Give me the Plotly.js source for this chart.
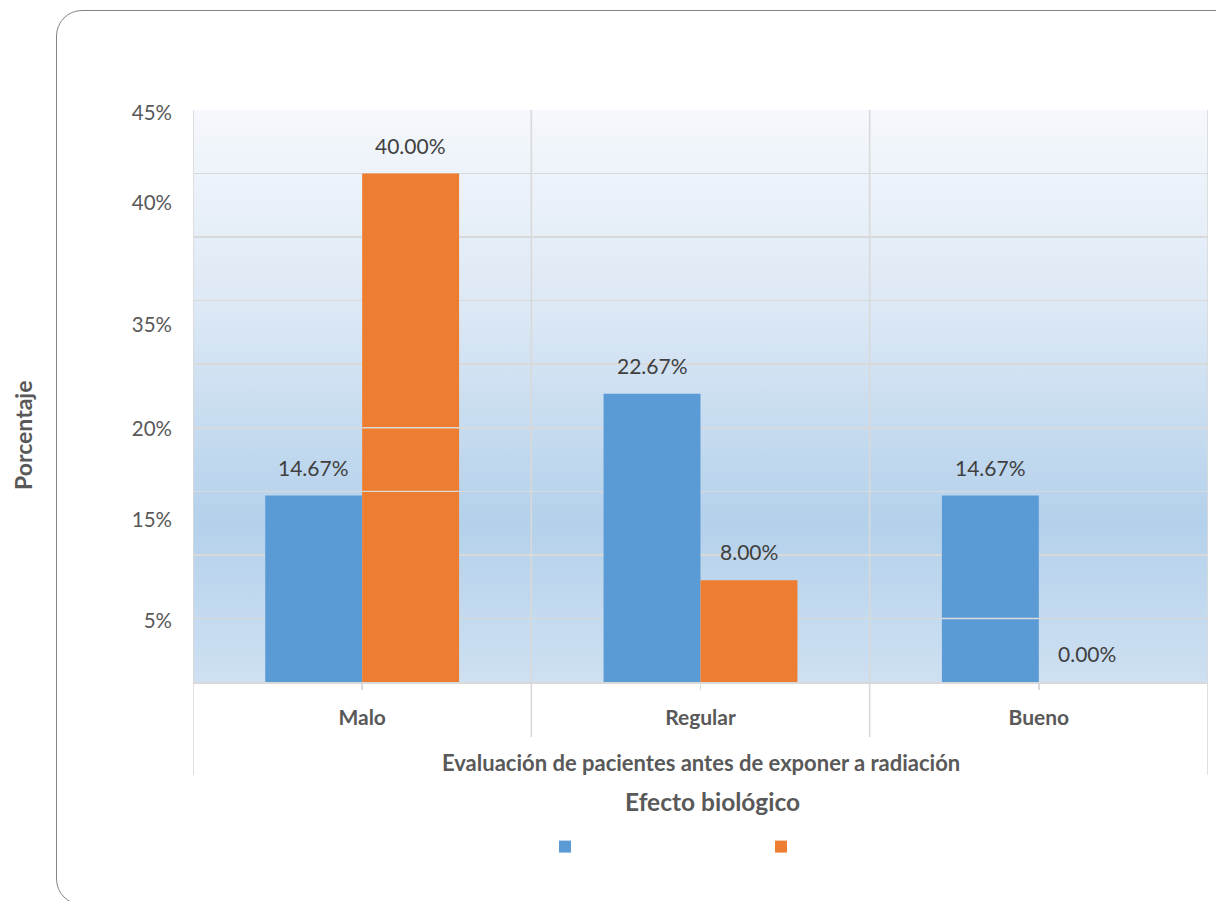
<!DOCTYPE html>
<html>
<head>
<meta charset="utf-8">
<script src="https://cdn.plot.ly/plotly-3.0.1.min.js"></script>
<style>
  html, body { margin: 0; padding: 0; background: #ffffff; overflow: hidden; }
  #frame {
    position: absolute; left: 56px; top: 10px; width: 1200px; height: 895px;
    border: 1.5px solid #858585; border-radius: 26px; box-sizing: border-box;
  }
  #chart { position: absolute; left: 0; top: 0; width: 1216px; height: 901px; }
</style>
</head>
<body>
<div id="frame"></div>
<div id="chart"></div>
<script>
// Categories and series (percentages)
const categories = ['Malo', 'Regular', 'Bueno'];
const serieAzul = [14.67, 22.67, 14.67];
const serieNaranja = [40.00, 8.00, 0.00];

// Y-axis labels as printed on the chart, and where they sit on the value scale
const yTickText = ['45%', '40%', '35%', '20%', '15%', '5%'];
const yTickPos = [44.75, 37.7, 28.1, 19.9, 12.75, 4.85];

const groupLabel = 'Evaluación de pacientes antes de exponer a radiación';
const xTitle = 'Efecto biológico';
const yTitle = 'Porcentaje';

const FONT = 'Lato, "Open Sans", sans-serif';
const BLUE = '#5B9BD5';
const ORANGE = '#ED7D31';
const GRID = '#D9D9D9';

const W = 1216, H = 901;
const margin = { l: 193, r: 8, t: 110, b: 219 };
const plotW = W - margin.l - margin.r;
const plotH = H - margin.t - margin.b;
const bargap = 0.427;
const barW = (1 - bargap) / 2;               // width of one bar in category units
const catPx = plotW / categories.length;     // pixels per category
const barShiftPx = (barW / 2) * catPx;       // offset of each bar centre from category centre

// helpers: page pixel -> paper fraction
const px2x = p => (p - margin.l) / plotW;
const px2y = p => (H - margin.b - p) / plotH;

// Plot-area background gradient
const gradSvg =
  '<svg xmlns="http://www.w3.org/2000/svg" width="10" height="100" preserveAspectRatio="none">' +
  '<defs><linearGradient id="g" x1="0" y1="0" x2="0" y2="1">' +
  '<stop offset="0" stop-color="#F5F8FC"/>' +
  '<stop offset="0.35" stop-color="#DCE8F5"/>' +
  '<stop offset="0.72" stop-color="#B4D1EB"/>' +
  '<stop offset="1" stop-color="#CEE0F2"/>' +
  '</linearGradient></defs><rect width="10" height="100" fill="url(#g)"/></svg>';
const gradUri = 'data:image/svg+xml;charset=utf-8,' + encodeURIComponent(gradSvg);

const traces = [
  { type: 'bar', x: categories, y: serieAzul, name: ' ', marker: { color: BLUE }, hoverinfo: 'x+y' },
  { type: 'bar', x: categories, y: serieNaranja, name: ' ', marker: { color: ORANGE }, hoverinfo: 'x+y' }
];

// Value labels above each bar
const annotations = [];
[serieAzul, serieNaranja].forEach((serie, si) => {
  serie.forEach((v, i) => {
    annotations.push({
      x: categories[i], y: v, xref: 'x', yref: 'y',
      xshift: (si === 0 ? -1 : 1) * barShiftPx, yshift: 14,
      yanchor: 'bottom', showarrow: false,
      text: v.toFixed(2) + '%',
      font: { family: FONT, size: 21, color: '#404040' }
    });
  });
});
// Second-level category label
annotations.push({
  x: 0.5, y: px2y(762), xref: 'paper', yref: 'paper',
  yanchor: 'middle', showarrow: false, text: '<b>' + groupLabel + '</b>',
  font: { family: FONT, size: 22, color: '#595959' }
});
// Axis titles
annotations.push({
  x: px2x(712), y: px2y(801), xref: 'paper', yref: 'paper',
  xanchor: 'center', yanchor: 'middle', showarrow: false, text: '<b>' + xTitle + '</b>',
  font: { family: FONT, size: 24.5, color: '#595959' }
});
annotations.push({
  x: px2x(23), y: px2y(436), xref: 'paper', yref: 'paper',
  xanchor: 'center', yanchor: 'middle', showarrow: false, textangle: -90,
  text: '<b>' + yTitle + '</b>',
  font: { family: FONT, size: 23, color: '#595959' }
});

// Category separators below the axis and plot-area side borders
const lowInner = px2y(737);
const lowOuter = px2y(775);
const shapes = [];
[-0.5, 2.5].forEach(xv => shapes.push({
  type: 'line', xref: 'x', yref: 'paper', x0: xv, x1: xv, y0: lowOuter, y1: 1,
  line: { color: GRID, width: 1.6 }, layer: 'above'
}));
[0.5, 1.5].forEach(xv => shapes.push({
  type: 'line', xref: 'x', yref: 'paper', x0: xv, x1: xv, y0: lowInner, y1: 1,
  line: { color: GRID, width: 1.6 }, layer: 'below'
}));
// Gridlines that run across some of the bars
[[20, 0, 1], [15, 0, 1], [5, 2, 0]].forEach(([yv, ci, si]) => {
  const x0 = si === 0 ? ci - barW : ci;
  shapes.push({
    type: 'line', xref: 'x', yref: 'y', x0: x0, x1: x0 + barW, y0: yv, y1: yv,
    line: { color: GRID, width: 1.4 }, layer: 'above'
  });
});

const layout = {
  width: W, height: H, margin: margin,
  paper_bgcolor: 'rgba(0,0,0,0)', plot_bgcolor: 'rgba(0,0,0,0)',
  font: { family: FONT, color: '#595959' },
  barmode: 'group', bargap: bargap, bargroupgap: 0,
  images: [{ source: gradUri, xref: 'paper', yref: 'paper', x: 0, y: 1, sizex: 1, sizey: 1,
             sizing: 'stretch', xanchor: 'left', yanchor: 'top', layer: 'below' }],
  xaxis: {
    type: 'category', categoryorder: 'array', categoryarray: categories,
    range: [-0.5, 2.5], fixedrange: true,
    showgrid: false, zeroline: false,
    showline: true, linecolor: GRID, linewidth: 2,
    ticks: 'outside', ticklen: 6, tickcolor: GRID, tickwidth: 1.5,
    ticklabelstandoff: 10,
    tickfont: { family: FONT, size: 21, color: '#595959', weight: 'bold' }
  },
  yaxis: {
    range: [0, 45], fixedrange: true,
    tickmode: 'array', tickvals: yTickPos, ticktext: yTickText,
    showgrid: false, zeroline: false, showline: false, ticks: '',
    ticklabelstandoff: 20,
    tickfont: { family: FONT, size: 20.5, color: '#595959' },
    minor: { tickmode: 'linear', tick0: 0, dtick: 5, showgrid: true, gridcolor: GRID, gridwidth: 1.6, ticks: '' }
  },
  showlegend: true,
  legend: {
    orientation: 'h', x: px2x(559 - 14), xanchor: 'left',
    y: px2y(847), yanchor: 'middle',
    entrywidth: 171, entrywidthmode: 'pixels',
    font: { family: FONT, size: 14 }, bgcolor: 'rgba(0,0,0,0)', traceorder: 'normal'
  },
  shapes: shapes,
  annotations: annotations
};

Plotly.newPlot('chart', traces, layout, { displayModeBar: false, staticPlot: true });
</script>
</body>
</html>
